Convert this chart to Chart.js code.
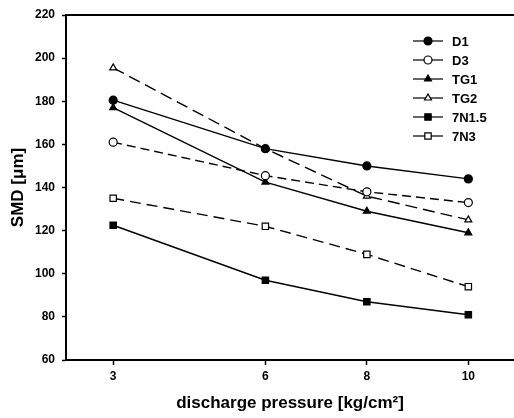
<!DOCTYPE html>
<html>
<head>
<meta charset="utf-8">
<script src="https://cdn.jsdelivr.net/npm/chart.js@4/dist/chart.umd.min.js"></script>
<style>
  html, body { margin: 0; padding: 0; background: #fff; }
  #wrap { width: 514px; height: 418px; }
</style>
</head>
<body>
<div id="wrap"><canvas id="c" width="514" height="418"></canvas></div>
<script>
// ---------- data ----------
const pressures = [3, 6, 8, 10];            // x: discharge pressure
const xTicks = [3, 6, 8, 10];
const yTicks = [60, 80, 100, 120, 140, 160, 180, 200, 220];

const seriesNames = ['D1', 'D3', 'TG1', 'TG2', '7N1.5', '7N3'];
const d1   = [180.5, 158, 150, 144];
const d3   = [161, 145.5, 138, 133];
const tg1  = [177, 142.5, 129, 119];
const tg2  = [195.5, 158, 136, 125];
const n15  = [122.5, 97, 87, 81];
const n3   = [135, 122, 109, 94];

// ---------- styles ----------
const styles = [
  { data: d1,  point: 'circle',   filled: true,  dash: [] },
  { data: d3,  point: 'circle',   filled: false, dash: [9, 5] },
  { data: tg1, point: 'triangle', filled: true,  dash: [] },
  { data: tg2, point: 'triangle', filled: false, dash: [12, 6] },
  { data: n15, point: 'rect',     filled: true,  dash: [] },
  { data: n3,  point: 'rect',     filled: false, dash: [11, 6] },
];

const datasets = styles.map(function (s, i) {
  return {
    label: seriesNames[i],
    data: s.data.map(function (v, j) { return { x: pressures[j], y: v }; }),
    borderColor: '#000',
    borderWidth: 1.4,
    borderDash: s.dash,
    pointStyle: s.point,
    pointRadius: s.point === 'rect' ? 4.5 : 4,
    pointBackgroundColor: s.filled ? '#000' : '#fff',
    pointBorderColor: '#000',
    pointBorderWidth: 1.2,
    fill: false,
    tension: 0,
  };
});

// 图例：线段 + 标记 + 文字；外加顶部边框线
const lineLegend = {
  id: 'lineLegend',
  beforeDatasetsDraw(chart) {
    const a = chart.chartArea, ctx = chart.ctx;
    ctx.save();
    ctx.strokeStyle = '#000';
    ctx.lineWidth = 2;
    ctx.beginPath(); ctx.moveTo(a.left, a.top); ctx.lineTo(a.right, a.top); ctx.stroke();
    ctx.restore();
  },
  afterDraw(chart) {
    const ctx = chart.ctx;
    ctx.save();
    chart.data.datasets.forEach(function (ds, i) {
      const y = 41 + i * 19;
      const x0 = 413, x1 = 443;
      ctx.strokeStyle = '#000';
      ctx.lineWidth = 1.2;
      ctx.setLineDash([]);
      ctx.beginPath(); ctx.moveTo(x0, y); ctx.lineTo(x1, y); ctx.stroke();
      ctx.fillStyle = ds.pointBackgroundColor;
      ctx.strokeStyle = '#000';
      Chart.helpers.drawPoint(ctx, {
        pointStyle: ds.pointStyle, radius: ds.pointRadius, borderWidth: 1.2
      }, (x0 + x1) / 2, y);
      ctx.fillStyle = '#000';
      ctx.font = 'bold 13px "Liberation Sans", Arial, sans-serif';
      ctx.textBaseline = 'middle';
      ctx.textAlign = 'left';
      ctx.fillText(ds.label, 452, y + 1);
    });
    ctx.restore();
  },
};

const tickFont = { family: '"Liberation Sans", Arial, sans-serif', size: 12, weight: 'bold' };
const titleFont = { family: '"Liberation Sans", Arial, sans-serif', size: 17, weight: 'bold' };

new Chart(document.getElementById('c'), {
  type: 'line',
  data: { datasets: datasets },
  plugins: [lineLegend],
  options: {
    responsive: false,
    animation: false,
    layout: { autoPadding: false, padding: { top: 15, right: 0, left: 0, bottom: 0 } },
    plugins: { legend: { display: false }, tooltip: { enabled: false } },
    scales: {
      x: {
        type: 'linear',
        min: 2.07,
        max: 10.9,
        afterBuildTicks: function (s) { s.ticks = xTicks.map(function (v) { return { value: v }; }); },
        afterFit: function (s) { s.height = 58; },
        ticks: { color: '#000', font: tickFont, padding: 4, autoSkip: false },
        grid: { drawOnChartArea: false, color: '#000', tickLength: 5, tickWidth: 1.5 },
        border: { color: '#000', width: 2 },
        title: {
          display: true,
          text: 'discharge pressure [kg/cm²]',
          color: '#000',
          font: titleFont,
          padding: { top: 8 },
        },
      },
      y: {
        min: 60,
        max: 220,
        afterBuildTicks: function (s) { s.ticks = yTicks.map(function (v) { return { value: v }; }); },
        afterFit: function (s) { s.width = 66; },
        ticks: { color: '#000', font: tickFont, padding: 7 },
        grid: { drawOnChartArea: false, color: '#000', tickLength: 4, tickWidth: 1.5 },
        border: { color: '#000', width: 2 },
        title: {
          display: true,
          text: 'SMD [μm]',
          color: '#000',
          font: titleFont,
          padding: { top: 8, bottom: 0 },
        },
      },
    },
  },
});
</script>
</body>
</html>
